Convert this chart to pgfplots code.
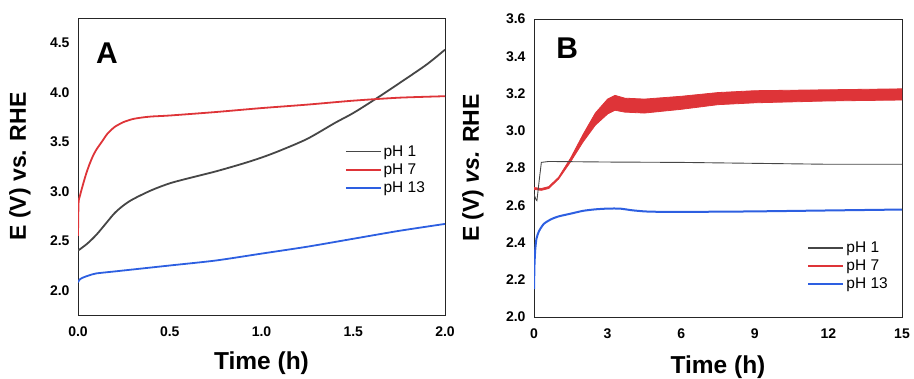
\documentclass[border=0pt]{standalone}
\usepackage{pgfplots}
\pgfplotsset{compat=1.18}
\usepackage{fontspec}
\setmainfont{Liberation Sans}
\definecolor{cblk}{RGB}{70,70,70}
\definecolor{cred}{RGB}{222,52,56}
\definecolor{cblu}{RGB}{45,95,225}
\newcommand{\lf}{\fontsize{15.5}{17}\selectfont}
\begin{document}
\begin{tikzpicture}
\useasboundingbox (0,0) rectangle (914pt,379pt);
\pgfplotsset{
  myaxis/.style={
    scale only axis,
    axis line style={draw=black!85, line width=0.9pt},
    major tick length=0pt,
    /pgf/number format/assume math mode=true,
    ticklabel style={font=\bfseries\fontsize{14}{16}\selectfont},
    xticklabel style={yshift=-8pt},
    yticklabel style={xshift=-5pt},
    legend style={draw=none, fill=none, anchor=north west, row sep=2pt, inner sep=0pt, cells={anchor=west}},
    legend image code/.code={\draw[#1] (0pt,0pt) -- (35pt,0pt);},
    every axis x label/.style={anchor=center, font=\bfseries\fontsize{24.5}{27}\selectfont},
    every axis y label/.style={anchor=center, rotate=90, font=\bfseries\fontsize{23}{26}\selectfont},
  }
}
% Panel A
\begin{axis}[myaxis, at={(78pt,64pt)}, anchor=south west, width=367pt, height=297pt,
  xmin=0, xmax=2, ymin=1.75, ymax=4.75,
  xtick={0,0.5,1,1.5,2}, ytick={2,2.5,3,3.5,4,4.5},
  xticklabel style={/pgf/number format/.cd, fixed, fixed zerofill, precision=1},
  yticklabel style={/pgf/number format/.cd, fixed, fixed zerofill, precision=1},
  xlabel={Time (h)}, ylabel={E (V) vs. RHE},
  x label style={at={(axis description cs:0.5,-0.162)}},
  y label style={at={(axis description cs:-0.158,0.5)}},
  legend style={at={(axis description cs:0.727,0.578)}},
]
\addlegendimage{cblk, line width=1.6pt}
\addlegendentry{\lf pH 1}
\addlegendimage{cred, line width=1.6pt}
\addlegendentry{\lf pH 7}
\addlegendimage{cblu, line width=1.6pt}
\addlegendentry{\lf pH 13}
\addplot[cblk, line width=1.8pt, smooth, tension=0.5, forget plot] coordinates {(0,2.40)(0.05,2.47)(0.1,2.56)(0.15,2.67)(0.2,2.78)(0.25,2.86)(0.3,2.92)(0.4,3.01)(0.5,3.08)(0.6,3.13)(0.75,3.20)(0.9,3.28)(1.0,3.34)(1.1,3.41)(1.25,3.53)(1.4,3.69)(1.5,3.79)(1.62,3.93)(1.75,4.09)(1.9,4.28)(2.0,4.43)};
\addplot[cred, line width=1.8pt, smooth, tension=0.4, forget plot] coordinates {(0,2.55)(0.003,2.88)(0.01,2.95)(0.02,3.02)(0.04,3.15)(0.06,3.26)(0.08,3.35)(0.1,3.42)(0.13,3.50)(0.16,3.58)(0.2,3.65)(0.25,3.70)(0.3,3.73)(0.35,3.745)(0.4,3.755)(0.5,3.765)(0.75,3.80)(1.0,3.84)(1.25,3.875)(1.5,3.915)(1.75,3.945)(2.0,3.96)};
\addplot[cblu, line width=1.8pt, smooth, tension=0.4, forget plot] coordinates {(0,2.08)(0.01,2.11)(0.03,2.13)(0.06,2.15)(0.1,2.17)(0.2,2.19)(0.3,2.21)(0.5,2.25)(0.75,2.30)(1.0,2.37)(1.25,2.44)(1.5,2.52)(1.75,2.60)(2.0,2.67)};
\node[font=\bfseries\fontsize{30}{32}\selectfont] at (axis description cs:0.079,0.882) {A};
\end{axis}
% Panel B
\begin{axis}[myaxis, at={(534pt,62pt)}, anchor=south west, width=368pt, height=298pt,
  xmin=0, xmax=15, ymin=2.0, ymax=3.6,
  xtick={0,3,6,9,12,15}, ytick={2.0,2.2,2.4,2.6,2.8,3.0,3.2,3.4,3.6},
  yticklabel style={/pgf/number format/.cd, fixed, fixed zerofill, precision=1},
  xlabel={Time (h)}, ylabel={E (V) \textit{vs.} RHE},
  x label style={at={(axis description cs:0.5,-0.168)}},
  y label style={at={(axis description cs:-0.166,0.5)}},
  legend style={at={(axis description cs:0.742,0.26)}},
]
\addlegendimage{cblk, line width=1.8pt}
\addlegendentry{\lf pH 1}
\addlegendimage{cred, line width=2.2pt}
\addlegendentry{\lf pH 7}
\addlegendimage{cblu, line width=2.2pt}
\addlegendentry{\lf pH 13}
\addplot[cred, fill=cred, line width=0.8pt, forget plot] coordinates {(0,2.695)(0.3,2.69)(0.6,2.70)(1.0,2.75)(1.5,2.855)(2.0,2.98)(2.5,3.095)(3.0,3.17)(3.3,3.19)(3.7,3.175)(4.5,3.17)(6,3.185)(7.5,3.205)(9,3.215)(12,3.22)(15,3.225)
(15,3.165)(12,3.16)(9,3.15)(7.5,3.14)(6,3.115)(4.5,3.095)(3.7,3.10)(3.3,3.11)(3.0,3.09)(2.5,3.03)(2.0,2.94)(1.5,2.835)(1.0,2.74)(0.6,2.69)(0.3,2.68)(0,2.685)} -- cycle;
\addplot[cblk, line width=0.9pt, forget plot] coordinates {(0,2.66)(0.08,2.63)(0.12,2.625)(0.2,2.72)(0.3,2.83)(0.6,2.835)(3,2.832)(6,2.83)(9,2.825)(12,2.82)(15,2.82)};
\addplot[cblu, line width=2pt, smooth, tension=0.4, forget plot] coordinates {(0,2.15)(0.02,2.28)(0.05,2.36)(0.1,2.42)(0.2,2.46)(0.4,2.50)(0.7,2.525)(1,2.54)(1.5,2.555)(2,2.57)(2.5,2.578)(3,2.582)(3.5,2.582)(4,2.573)(4.5,2.567)(5,2.565)(7,2.565)(9,2.567)(12,2.572)(15,2.577)};
\node[font=\bfseries\fontsize{30}{32}\selectfont] at (axis description cs:0.09,0.903) {B};
\end{axis}
\end{tikzpicture}
\end{document}
